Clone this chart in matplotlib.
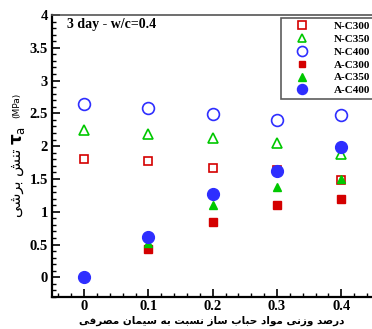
import matplotlib
matplotlib.use('Agg')
import matplotlib.pyplot as plt
from matplotlib.ticker import MultipleLocator

# data
x = [0, 0.1, 0.2, 0.3, 0.4]
x_a = [0.1, 0.2, 0.3, 0.4]
n_c300 = [1.80, 1.78, 1.66, 1.63, 1.48]
n_c350 = [2.25, 2.18, 2.13, 2.05, 1.88]
n_c400 = [2.65, 2.58, 2.49, 2.40, 2.47]
a_c300 = [0.43, 0.85, 1.10, 1.19]
a_c350 = [0.52, 1.10, 1.38, 1.50]
a_c400 = [0.0, 0.62, 1.27, 1.62, 1.98]

xlabel_fa = "درصد وزنی مواد حباب ساز نسبت به سیمان مصرفی"
ylabel_fa = "تنش برشی"
title = "3 day - w/c=0.4"

# small persian shaper (presentation forms), matplotlib has no shaping
forms = {  # isolated, final, initial, medial
    'ا': ('\uFE8D', '\uFE8E', None, None),
    'ب': ('\uFE8F', '\uFE90', '\uFE91', '\uFE92'),
    'ت': ('\uFE95', '\uFE96', '\uFE97', '\uFE98'),
    'ح': ('\uFEA1', '\uFEA2', '\uFEA3', '\uFEA4'),
    'د': ('\uFEA9', '\uFEAA', None, None),
    'ر': ('\uFEAD', '\uFEAE', None, None),
    'ز': ('\uFEAF', '\uFEB0', None, None),
    'س': ('\uFEB1', '\uFEB2', '\uFEB3', '\uFEB4'),
    'ش': ('\uFEB5', '\uFEB6', '\uFEB7', '\uFEB8'),
    'ص': ('\uFEB9', '\uFEBA', '\uFEBB', '\uFEBC'),
    'ف': ('\uFED1', '\uFED2', '\uFED3', '\uFED4'),
    'م': ('\uFEE1', '\uFEE2', '\uFEE3', '\uFEE4'),
    'ن': ('\uFEE5', '\uFEE6', '\uFEE7', '\uFEE8'),
    'ه': ('\uFEE9', '\uFEEA', '\uFEEB', '\uFEEC'),
    'و': ('\uFEED', '\uFEEE', None, None),
    'ی': ('\uFEEF', '\uFEF0', '\uFEF3', '\uFEF4'),
}


def shape(s):
    out = []
    for i, c in enumerate(s):
        if c not in forms:
            out.append(c)
            continue
        prev = s[i - 1] if i > 0 else ' '
        nxt = s[i + 1] if i < len(s) - 1 else ' '
        jp = prev in forms and forms[prev][2] is not None
        jn = forms[c][2] is not None and nxt in forms
        f = forms[c]
        if jp and jn:
            out.append(f[3])
        elif jp:
            out.append(f[1])
        elif jn:
            out.append(f[2])
        else:
            out.append(f[0])
    return ''.join(out)[::-1]


red = '#d40000'
green = '#00c800'
blue = '#2e2eff'

fig = plt.figure(figsize=(3.72, 3.29), dpi=100)
ax = fig.add_axes([52 / 372, 32 / 329, 321.5 / 372, 282 / 329])

ax.plot(x, n_c300, 's', mfc='white', mec=red, mew=1.2, ms=6, label='N-C300')
ax.plot(x, n_c350, '^', mfc='white', mec=green, mew=1.2, ms=7, label='N-C350')
ax.plot(x, n_c400, 'o', mfc='white', mec=blue, mew=1.2, ms=8.5, label='N-C400')
ax.plot(x_a, a_c300, 's', color=red, ms=5.5, label='A-C300')
ax.plot(x_a, a_c350, '^', color=green, ms=6, label='A-C350')
ax.plot(x, a_c400, 'o', color=blue, ms=8.5, label='A-C400')

ax.set_xlim(-0.05, 0.45)
ax.set_ylim(-0.3, 4)
ax.xaxis.set_minor_locator(MultipleLocator(0.02))
ax.yaxis.set_minor_locator(MultipleLocator(0.1))
ax.tick_params(which='both', direction='in', top=False, right=False)
ax.tick_params(which='major', length=6, width=1.2)
ax.tick_params(which='minor', length=3, width=1)
ax.tick_params(axis='x', pad=2)
ax.tick_params(axis='y', pad=3)
ax.set_xticks([0, 0.1, 0.2, 0.3, 0.4])
ax.set_xticklabels(['0', '0.1', '0.2', '0.3', '0.4'])
ax.set_yticks([0, 0.5, 1, 1.5, 2, 2.5, 3, 3.5, 4])
ax.set_yticklabels(['0', '0.5', '1', '1.5', '2', '2.5', '3', '3.5', '4'])
for lab in ax.get_xticklabels() + ax.get_yticklabels():
    lab.set_fontfamily('Liberation Serif')
    lab.set_fontweight('bold')
    lab.set_fontsize(10.5)

ax.spines['left'].set_linewidth(1.6)
ax.spines['bottom'].set_linewidth(1.6)
ax.spines['top'].set_color('#555555')
ax.spines['top'].set_linewidth(1.2)
ax.spines['right'].set_visible(False)

ax.text(0.048, 0.988, title, transform=ax.transAxes, ha='left', va='top',
        family='Liberation Serif', weight='bold', fontsize=10)

leg = ax.legend(loc='upper left', bbox_to_anchor=(0.712, 0.99), frameon=True,
                fancybox=False, edgecolor='#333333', markerscale=0.85,
                prop={'family': 'Liberation Serif', 'weight': 'bold', 'size': 8},
                handlelength=3.2, handletextpad=1.3, labelspacing=0.28,
                borderpad=0.3, borderaxespad=0)
leg.get_frame().set_linewidth(1.2)

# x label (persian) and the two-part y label
fig.text(212 / 372, 1 - 321 / 329, shape(xlabel_fa), ha='center', va='center',
         family='DejaVu Sans', weight='bold', fontsize=7.5)
fig.text(17 / 372, 1 - 183 / 329, shape(ylabel_fa), rotation=90,
         ha='center', va='center', family='DejaVu Sans', fontsize=10.5)
fig.text(18 / 372, 1 - 136 / 329, r'$\mathbf{\tau}_{\rm a}$', rotation=90,
         ha='center', va='center', fontsize=12)
fig.text(17 / 372, 1 - 105 / 329, '(MPa)', rotation=90,
         ha='center', va='center', family='DejaVu Sans', fontsize=6.5)

fig.savefig('out.png', dpi=100)
